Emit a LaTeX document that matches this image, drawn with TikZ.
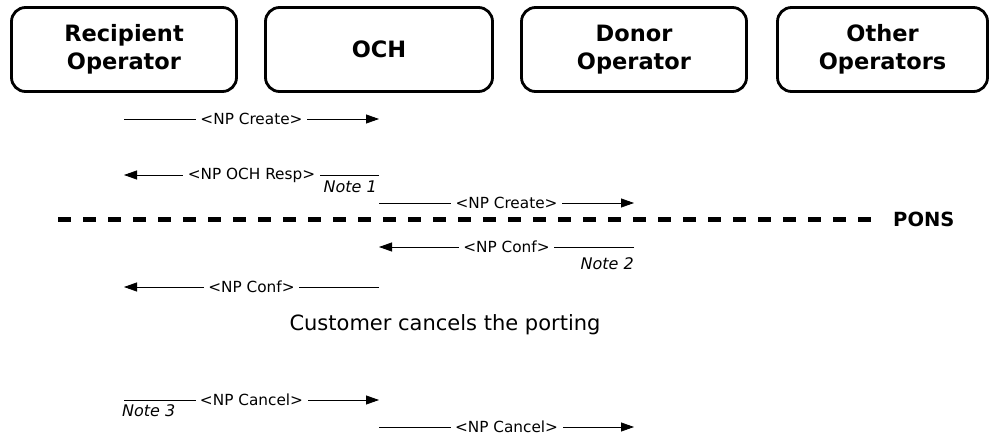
\documentclass[tikz,border=0pt]{standalone}
\usepackage{fontspec}
\setmainfont{DejaVu Sans}
\usetikzlibrary{arrows.meta}

\begin{document}
\begin{tikzpicture}[x=1pt,y=-1pt,
  actor/.style={draw, line width=2.8pt, rounded corners=14pt, minimum height=84pt,
    align=center, inner sep=0pt, font=\fontsize{22.5}{28}\selectfont\bfseries},
  msg/.style={line width=0.8pt, -{Triangle[length=13pt,width=9pt]}},
  lbl/.style={fill=white, inner xsep=4.5pt, inner ysep=1pt, font=\fontsize{15.3}{18}\selectfont},
  note/.style={inner sep=0pt, font=\fontsize{16}{19}\selectfont\itshape},
  phase/.style={line width=5pt, dash pattern=on 13pt off 12pt},
]
\useasboundingbox (0,0) rectangle (992,438);

% participants
\node[actor, minimum width=225pt] (rec)   at (124,49.5) {Recipient\\Operator};
\node[actor, minimum width=227pt] (och)   at (379,49.5) {OCH};
\node[actor, minimum width=225pt] (donor) at (634,49.5) {Donor\\Operator};
\node[actor, minimum width=210pt] (other) at (882.5,49.5) {Other\\Operators};

% message end points on the lifelines
\coordinate (m1a) at (124,119); \coordinate (m1b) at (379,119);
\coordinate (m2a) at (379,175); \coordinate (m2b) at (124,175);
\coordinate (m3a) at (379,203); \coordinate (m3b) at (634,203);
\coordinate (m4a) at (634,247); \coordinate (m4b) at (379,247);
\coordinate (m5a) at (379,287); \coordinate (m5b) at (124,287);
\coordinate (m6a) at (124,400); \coordinate (m6b) at (379,400);
\coordinate (m7a) at (379,427); \coordinate (m7b) at (634,427);

% messages
\draw[msg] (m1a) -- node[lbl] (l1) {<NP Create>} (m1b);
\draw[msg] (m2a) -- node[lbl] (l2) {<NP OCH Resp>} (m2b);
\draw[msg] (m3a) -- node[lbl] (l3) {<NP Create>} (m3b);
\draw[msg] (m4a) -- node[lbl] (l4) {<NP Conf>} (m4b);
\draw[msg] (m5a) -- node[lbl] (l5) {<NP Conf>} (m5b);
\draw[msg] (m6a) -- node[lbl] (l6) {<NP Cancel>} (m6b);
\draw[msg] (m7a) -- node[lbl] (l7) {<NP Cancel>} (m7b);

% notes
\node[note, anchor=base east] (n1) at (377,193) {Note 1};
\node[note, anchor=base east] (n2) at (634,269) {Note 2};
\node[note, anchor=base west] (n3) at (122,416) {Note 3};

% PONS boundary
\coordinate (pa) at (58,219.5);
\coordinate (pb) at (871,219.5);
\draw[phase] (pa) -- (pb);
\node[anchor=west, inner sep=0pt, font=\fontsize{19.5}{22}\selectfont\bfseries] (pons) at (893,219.5) {PONS};

% event
\node[font=\fontsize{21}{25}\selectfont] (cancel) at (445,325) {Customer cancels the porting};
\end{tikzpicture}
\end{document}
